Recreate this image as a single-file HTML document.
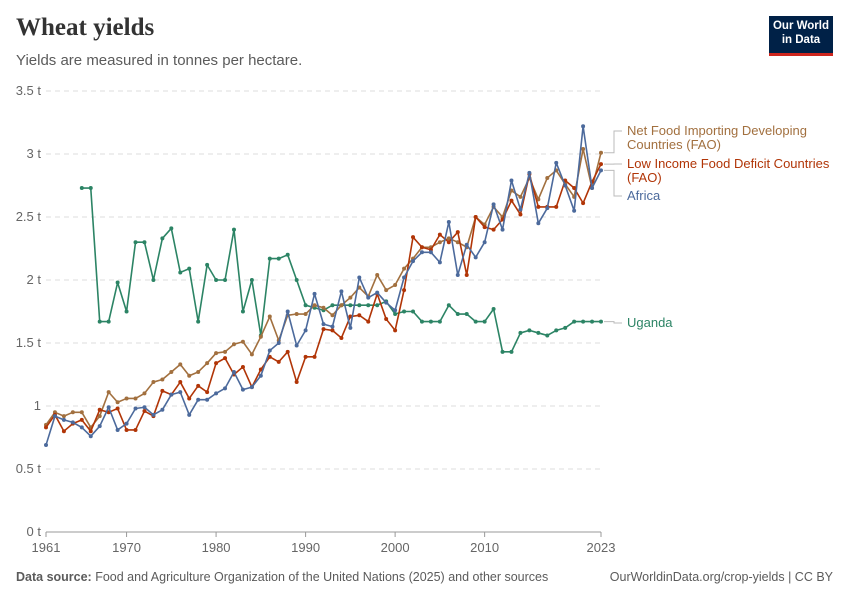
<!DOCTYPE html>
<html><head><meta charset="utf-8"><style>
body{margin:0;background:#fff;font-family:"Liberation Sans",sans-serif}
#wrap{position:relative;width:850px;height:600px;overflow:hidden}
.t{position:absolute}
</style></head><body>
<div id="wrap">
<div class="t" style="left:16px;top:14px;font-family:'Liberation Serif',serif;font-size:25px;font-weight:bold;color:#333">Wheat yields</div>
<div class="t" style="left:16px;top:52px;font-size:15px;color:#5b5b5b">Yields are measured in tonnes per hectare.</div>
<div class="t" style="left:769px;top:16px;width:64px;height:34px;background:#002147;border-bottom:3px solid #ce261e;color:#fff;font-size:11.5px;font-weight:bold;text-align:center;line-height:14px;padding-top:3px;box-sizing:content-box">Our World<br>in Data</div>
<svg id="chart" width="850" height="600" style="position:absolute;left:0;top:0"></svg>
<div class="t" style="left:16px;top:570px;font-size:12.5px;color:#5b5b5b"><b>Data source:</b> Food and Agriculture Organization of the United Nations (2025) and other sources</div>
<div class="t" style="right:17px;top:570px;font-size:12.5px;color:#5b5b5b">OurWorldinData.org/crop-yields | CC BY</div>
</div>
<script>
const years=[];for(let y=1961;y<=2023;y++)years.push(y);
const africa=[0.69,0.92,0.89,0.87,0.83,0.76,0.84,0.99,0.81,0.86,0.98,0.99,0.93,0.97,1.09,1.11,0.93,1.05,1.05,1.10,1.14,1.27,1.13,1.15,1.24,1.44,1.50,1.75,1.48,1.60,1.89,1.65,1.63,1.91,1.62,2.02,1.86,1.90,1.82,1.76,2.02,2.15,2.22,2.22,2.14,2.46,2.04,2.28,2.18,2.30,2.60,2.40,2.79,2.56,2.85,2.45,2.57,2.93,2.75,2.55,3.22,2.73,2.87];
const lifdc=[0.83,0.93,0.80,0.86,0.89,0.80,0.97,0.95,0.98,0.81,0.81,0.96,0.92,1.12,1.09,1.19,1.06,1.16,1.11,1.34,1.38,1.25,1.31,1.15,1.29,1.39,1.35,1.43,1.19,1.39,1.39,1.61,1.60,1.54,1.71,1.72,1.67,1.89,1.69,1.60,1.92,2.34,2.26,2.24,2.36,2.30,2.38,2.04,2.50,2.42,2.40,2.48,2.63,2.52,2.84,2.58,2.58,2.58,2.79,2.73,2.61,2.78,2.92];
const nfidc=[0.85,0.95,0.92,0.95,0.95,0.83,0.92,1.11,1.03,1.06,1.06,1.10,1.19,1.21,1.27,1.33,1.24,1.27,1.34,1.42,1.43,1.49,1.51,1.41,1.55,1.71,1.52,1.72,1.73,1.73,1.80,1.78,1.72,1.80,1.86,1.94,1.87,2.04,1.92,1.96,2.09,2.17,2.26,2.26,2.30,2.33,2.30,2.26,2.50,2.44,2.58,2.50,2.71,2.66,2.81,2.64,2.81,2.87,2.76,2.66,3.04,2.73,3.01];
const ugandaStart=1965;
const uganda=[2.73,2.73,1.67,1.67,1.98,1.75,2.30,2.30,2.00,2.33,2.41,2.06,2.09,1.67,2.12,2.00,2.00,2.40,1.75,2.00,1.56,2.17,2.17,2.20,2.00,1.80,1.78,1.76,1.80,1.80,1.80,1.80,1.80,1.80,1.83,1.73,1.75,1.75,1.67,1.67,1.67,1.80,1.73,1.73,1.67,1.67,1.77,1.43,1.43,1.58,1.60,1.58,1.56,1.60,1.62,1.67,1.67,1.67,1.67];
const yTicks=[0,0.5,1,1.5,2,2.5,3,3.5];
const yTickLabels=["0 t","0.5 t","1","1.5 t","2 t","2.5 t","3 t","3.5 t"];
const xTicks=[1961,1970,1980,1990,2000,2010,2023];

const svg=document.getElementById('chart');const NS='http://www.w3.org/2000/svg';
const X=y=>46+(y-1961)*(555/62);
const Y=v=>532-v*126;
function mk(tag,attrs,parent){const e=document.createElementNS(NS,tag);for(const k in attrs)e.setAttribute(k,attrs[k]);(parent||svg).appendChild(e);return e;}
yTicks.forEach((v,i)=>{
  const l=mk('line',{x1:46,x2:601,y1:Y(v),y2:Y(v),stroke:v===0?'#999':'#ddd','stroke-dasharray':v===0?'':'5,4'});
  
  
  const t=mk('text',{x:41,y:Y(v)+4,'text-anchor':'end','font-size':13,fill:'#666'});
  t.textContent=yTickLabels[i]==="1"?"1":yTickLabels[i];
  
  
});
xTicks.forEach(yr=>{
  const l=mk('line',{x1:X(yr),x2:X(yr),y1:532,y2:537,stroke:'#999'});
  
  
  const t=mk('text',{x:X(yr),y:552,'text-anchor':'middle','font-size':13,fill:'#666'});
  t.textContent=yr;
  
  
});
function series(vals,start,color,name){
  const g=mk('g',{});
  
  
  const pts=vals.map((v,i)=>X(start+i)+','+Y(v)).join(' ');
  mk('polyline',{points:pts,fill:'none',stroke:color,'stroke-width':1.6,'stroke-linejoin':'round'},g);
  vals.forEach((v,i)=>{const c=mk('circle',{cx:X(start+i),cy:Y(v),r:2,fill:color},g);
    
    });
}
series(uganda,ugandaStart,'#2c8465','uganda-line');
series(nfidc,1961,'#a2703f','nfidc-line');
series(lifdc,1961,'#b13507','lifdc-line');
series(africa,1961,'#4c6a9c','africa-line');
function label(lines,y0,color,name,lineY){
  const t=mk('text',{x:627,y:y0,'font-size':13,fill:color});
  
  
  lines.forEach((s,i)=>{const ts=mk('tspan',{x:627,dy:i?14:0},t);ts.textContent=s;});
  const p=mk('polyline',{points:`604,${Y(lineY)} 614,${Y(lineY)} 614,${y0-4} 622,${y0-4}`,fill:'none',stroke:'#bbb'});
  
  
}
label(['Net Food Importing Developing','Countries (FAO)'],135,'#a2703f','nfidc-label',3.01);
label(['Low Income Food Deficit Countries','(FAO)'],168,'#b13507','lifdc-label',2.92);
label(['Africa'],200,'#4c6a9c','africa-label',2.87);
label(['Uganda'],327,'#2c8465','uganda-label',1.67);
</script>
</body></html>
